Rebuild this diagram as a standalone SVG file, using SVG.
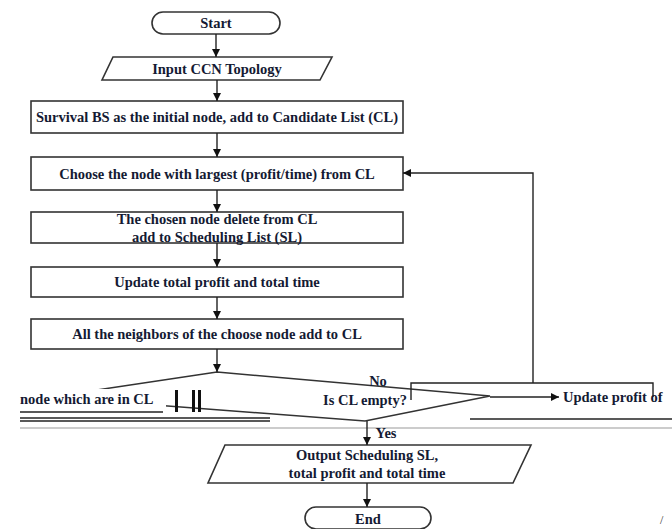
<svg xmlns="http://www.w3.org/2000/svg" width="672" height="529" viewBox="0 0 672 529">
<style>
.s{fill:#fff;stroke:#333;stroke-width:1.6}
.t{font-family:"Liberation Serif","Times New Roman",serif;font-weight:bold;font-size:14.5px;fill:#141a33;text-anchor:middle;dominant-baseline:central}
.c{fill:none;stroke:#222;stroke-width:1.4}
.a{fill:none;stroke:#222;stroke-width:1.4;marker-end:url(#ah)}
.g{stroke:#222;stroke-width:1.5}
</style>
<defs>
<marker id="ah" viewBox="0 0 10 10" refX="10" refY="5" markerWidth="8" markerHeight="8" markerUnits="userSpaceOnUse" orient="auto">
<path d="M0,0 L10,5 L0,10 z" fill="#111"/>
</marker>
</defs>
<rect width="672" height="529" fill="#fff"/>
<g id="start"><rect class="s" x="152" y="12" width="128" height="22" rx="11"/><text class="t" x="216" y="23">Start</text></g>
<g id="input"><polygon class="s" points="113,57 332,57 320,80 102,80"/><text class="t" x="217" y="69">Input CCN Topology</text></g>
<g id="survival"><rect class="s" x="31" y="101" width="372" height="32"/><text class="t" x="217" y="117">Survival BS as the initial node, add to Candidate List (CL)</text></g>
<g id="choose"><rect class="s" x="31" y="157" width="372" height="33"/><text class="t" x="217" y="174">Choose the node with largest (profit/time) from CL</text></g>
<g id="delete"><rect class="s" x="31" y="212" width="372" height="31"/><text class="t" x="217" y="219">The chosen node delete from CL</text><text class="t" x="217" y="237">add to Scheduling List (SL)</text></g>
<g id="update"><rect class="s" x="31" y="267" width="372" height="30"/><text class="t" x="217" y="282">Update total profit and total time</text></g>
<g id="neighbors"><rect class="s" x="31" y="319" width="372" height="30"/><text class="t" x="217" y="334">All the neighbors of the choose node add to CL</text></g>
<g id="decision"><polygon class="s" points="50,397 217,372 490,396 365,421"/><rect x="318" y="393" width="94" height="15" fill="#fff"/><text class="t" x="365" y="400">Is CL empty?</text></g>
<g id="updateprofit"><polyline class="c" points="411,400 411,383 653,383 653,397"/><text class="t" x="563" y="397" style="text-anchor:start">Update profit of</text></g>
<g id="leftlabel"><rect x="16" y="389" width="150" height="18" fill="#fff"/><text class="t" x="20" y="399" style="text-anchor:start">node which are in CL</text><line class="g" x1="20" y1="412" x2="163" y2="412"/><rect x="175" y="390" width="3" height="22" fill="#111"/><rect x="192" y="390" width="3" height="22" fill="#111"/><rect x="198" y="390" width="3" height="22" fill="#111"/></g>
<g id="output"><polygon class="s" points="225,445 531,445 513,483 208,483"/><text class="t" x="367" y="455">Output Scheduling SL,</text><text class="t" x="367" y="473">total profit and total time</text></g>
<g id="end"><rect class="s" x="305" y="507" width="126" height="22" rx="11"/><text class="t" x="368" y="519">End</text></g>
<g id="artifacts">
<line class="g" x1="20" y1="418" x2="270" y2="418"/>
<line class="g" x1="20" y1="421" x2="270" y2="421"/>
<line class="g" x1="470" y1="419" x2="672" y2="419"/>
<line x1="20" y1="428" x2="672" y2="428" stroke="#999" stroke-width="1"/>
<text x="660" y="524" font-family="Liberation Serif,serif" font-size="12" fill="#333">/</text>
</g>
<g id="connectors">
<line class="a" x1="216" y1="34" x2="216" y2="57"/>
<line class="a" x1="217" y1="80" x2="217" y2="101"/>
<line class="a" x1="217" y1="133" x2="217" y2="157"/>
<line class="a" x1="217" y1="190" x2="217" y2="212"/>
<line class="a" x1="217" y1="243" x2="217" y2="267"/>
<line class="a" x1="217" y1="297" x2="217" y2="319"/>
<line class="a" x1="217" y1="349" x2="217" y2="372"/>
<line class="a" x1="490" y1="397" x2="559" y2="397"/>
<polyline class="a" points="533,383 533,173 403,173"/>
<line class="a" x1="367" y1="421" x2="367" y2="445"/>
<line class="a" x1="367" y1="483" x2="367" y2="507"/>
<text class="t" x="378" y="381">No</text>
<text class="t" x="386" y="433">Yes</text>
</g>
</svg>
